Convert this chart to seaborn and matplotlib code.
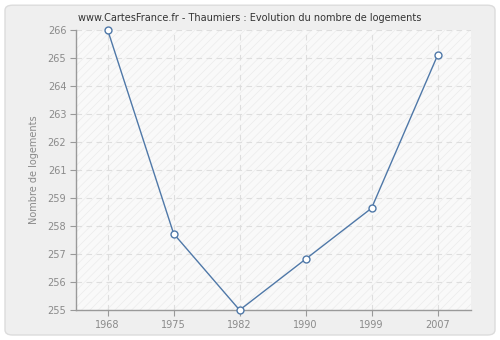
import matplotlib
matplotlib.use("Agg")
import matplotlib.pyplot as plt
from matplotlib.patches import FancyBboxPatch
import numpy as np
import seaborn as sns

years = ["1968", "1975", "1982", "1990", "1999", "2007"]
logements = [266, 258, 255, 257, 259, 265]
ytick_labels = ["255", "256", "257", "258", "259", "261", "262", "263", "264", "265", "266"]
title = "www.CartesFrance.fr - Thaumiers : Evolution du nombre de logements"
ylabel = "Nombre de logements"

sns.set_style("white")
plt.rcParams["font.family"] = ["DejaVu Sans"]
plt.rcParams["hatch.color"] = "#ebebeb"
plt.rcParams["hatch.linewidth"] = 0.5

fig = plt.figure(figsize=(5, 3.4), dpi=100)
fig.patch.set_facecolor("white")
panel = FancyBboxPatch((0.01, 0.0147), 0.98, 0.97, boxstyle="round,pad=0,rounding_size=0.015",
                       transform=fig.transFigure, facecolor="#efefef", edgecolor="#dcdcdc",
                       linewidth=1.0, zorder=-10)
fig.patches.append(panel)

ax = fig.add_axes([0.152, 0.088, 0.789, 0.824])
ax.set_zorder(1)
ax.set_facecolor("#f9f9f9")
ax.patch.set_hatch("////")
ax.patch.set_edgecolor("#ebebeb")
ax.patch.set_linewidth(0)

color = "#4f78a8"
sns.lineplot(x=years, y=logements, ax=ax, color=color, linewidth=1.0, marker="o",
             markersize=5, markerfacecolor="white", markeredgecolor=color,
             markeredgewidth=1.0, sort=False, zorder=5, clip_on=False)

ax.set_xlim(-0.48, 5.5)
ax.set_ylim(255, 266)
ax.set_yticks(np.linspace(255, 266, len(ytick_labels)))
ax.set_yticklabels(ytick_labels)

ax.grid(True, color="#dedede", linestyle=(0, (5, 4)), linewidth=0.8)
ax.set_axisbelow(True)
for s in ["top", "right"]:
    ax.spines[s].set_visible(False)
for s in ["left", "bottom"]:
    ax.spines[s].set_color("#999999")
    ax.spines[s].set_linewidth(1.0)
ax.tick_params(axis="both", which="both", direction="out", length=4, width=0.8,
               color="#999999", labelcolor="#8a8a8a", labelsize=7, pad=3,
               left=True, bottom=True)

ax.set_xlabel("")
ax.set_ylabel(ylabel, fontsize=7, color="#8a8a8a", labelpad=6)
fig.text(0.5, 0.948, title, ha="center", va="center", fontsize=7.0, color="#333333")

fig.savefig("out.png", dpi=100, facecolor="white")
